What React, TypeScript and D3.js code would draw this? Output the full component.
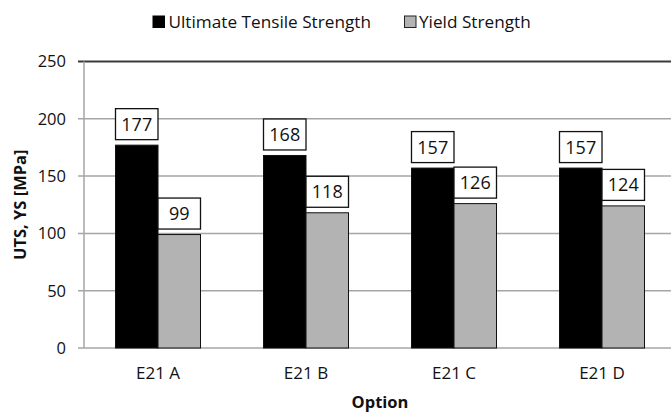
import React from "react";
import { scaleBand, scaleLinear } from "d3";

const categories = ["E21 A", "E21 B", "E21 C", "E21 D"];
const seriesNames = ["Ultimate Tensile Strength", "Yield Strength"];
const utsValues = [177, 168, 157, 157];
const ysValues = [99, 118, 126, 124];
const yTicks = [0, 50, 100, 150, 200, 250];

const W = 671;
const H = 412;
const font = "'Open Sans', 'Noto Sans', sans-serif";
const colors = ["#000000", "#b3b3b3"];

const App = () => {
  // plot area runs a little past the right edge, like the cropped original
  const left = 84;
  const right = 676;
  const top = 61.5;
  const bottom = 348;

  const x = scaleBand<string>().domain(categories).range([left, right]);
  const y = scaleLinear().domain([0, 250]).range([bottom, top]);
  const barW = 42.5;
  const series = [utsValues, ysValues];

  return (
    <svg width={W} height={H} style={{ position: "absolute", left: 0, top: 0, background: "#fff" }}
      fontFamily={font}>
      {/* legend */}
      <g>
        <rect x={153} y={16} width={11.5} height={11.5} fill={colors[0]} stroke="#000" />
        <text x={168.5} y={28} fontSize={17.2} fill="#111">{seriesNames[0]}</text>
        <rect x={404.5} y={16} width={11.5} height={11.5} fill={colors[1]} stroke="#222" />
        <text x={419} y={28} fontSize={17.2} fill="#111">{seriesNames[1]}</text>
      </g>

      {/* gridlines */}
      {yTicks.map((t) => (
        <g key={t}>
          <line x1={left - 6} x2={right} y1={y(t)} y2={y(t)}
            stroke={t === 250 ? "#3a3a3a" : "#a6a6a6"} strokeWidth={t === 250 ? 2 : 1.5} />
          <text x={66} y={y(t)} dy="0.36em" textAnchor="end" fontSize={16.5} fill="#111">{t}</text>
        </g>
      ))}
      <line x1={left} x2={left} y1={top} y2={bottom} stroke="#a6a6a6" strokeWidth={1.5} />

      {/* bars */}
      {categories.map((c, i) => {
        const cx = (x(c) as number) + x.bandwidth() / 2;
        return (
          <g key={c}>
            {series.map((vals, s) => {
              const bx = cx - barW + s * barW;
              const by = y(vals[i]);
              return (
                <g key={s}>
                  <rect x={bx} y={by} width={barW} height={bottom - by}
                    fill={colors[s]} stroke="#111" strokeWidth={1} />
                  <rect x={bx} y={by - 36.5} width={barW} height={31}
                    fill="#fff" stroke="#111" strokeWidth={1.3} />
                  <text x={bx + barW / 2} y={by - 21} dy="0.36em" textAnchor="middle"
                    fontSize={18} fill="#111">{vals[i]}</text>
                </g>
              );
            })}
            <text x={cx} y={379} textAnchor="middle" fontSize={17} fill="#111">{c}</text>
          </g>
        );
      })}

      {/* axis titles */}
      <text x={380} y={408} textAnchor="middle" fontSize={16.5} fontWeight="bold" fill="#111">Option</text>
      <text transform={`translate(26,${(top + bottom) / 2}) rotate(-90)`} textAnchor="middle"
        fontSize={16.5} fontWeight="bold" fill="#111">UTS, YS [MPa]</text>
    </svg>
  );
};

export default App;
